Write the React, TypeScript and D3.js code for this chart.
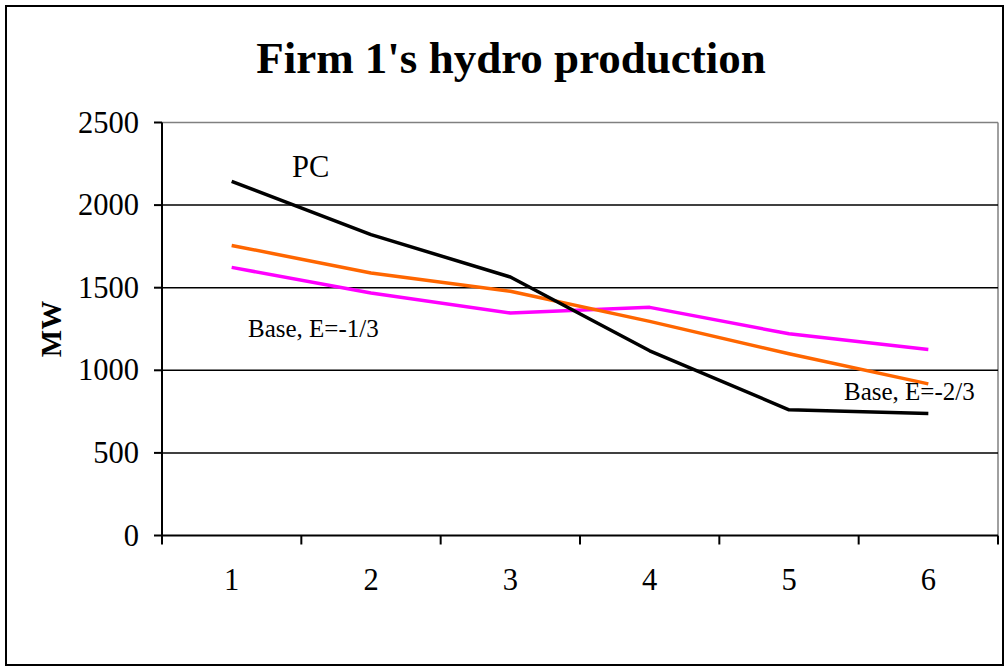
import React from "react";
import * as d3 from "d3";

const categories = ["1", "2", "3", "4", "5", "6"];
const pcValues = [2144, 1821, 1565, 1118, 761, 738];
const baseTwoThirds = [1756, 1589, 1478, 1296, 1100, 918];
const baseOneThird = [1623, 1468, 1347, 1381, 1221, 1126];
const yTicks = [0, 500, 1000, 1500, 2000, 2500];

const W = 1008;
const H = 666;
const left = 162;
const right = 998;
const top = 122.5;
const bottom = 535.5;
const FONT = "'Liberation Serif', 'Times New Roman', serif";

export default function App() {
  const x = d3.scaleBand<string>().domain(categories).range([left, right]).paddingInner(0).paddingOuter(0);
  const y = d3.scaleLinear().domain([0, 2500]).range([bottom, top]);
  const cx = (c: string) => (x(c) as number) + x.bandwidth() / 2;
  const line = d3
    .line<number>()
    .x((_, i) => cx(categories[i]))
    .y((d) => y(d));
  const boundaries = [...categories.map((c) => x(c) as number), right];

  const series = [
    { values: baseOneThird, color: "#FF00FF" },
    { values: baseTwoThirds, color: "#FF6600" },
    { values: pcValues, color: "#000000" },
  ];

  return (
    <div style={{ position: "fixed", left: 0, top: 0 }}>
      <svg width={W} height={H} style={{ display: "block", background: "#fff" }}>
        <rect x={6} y={6} width={997} height={659} fill="#fff" stroke="#000" strokeWidth={2} />
        <text x={511} y={73} textAnchor="middle" fontFamily={FONT} fontWeight="bold" fontSize={45}>
          Firm 1's hydro production
        </text>
        {/* plot border top/right gray */}
        <line x1={left} x2={right} y1={top} y2={top} stroke="#808080" strokeWidth={1.5} />
        <line x1={right} x2={right} y1={top} y2={bottom} stroke="#808080" strokeWidth={1.5} />
        {/* gridlines */}
        {yTicks
          .filter((t) => t > 0 && t < 2500)
          .map((t) => (
            <line key={t} x1={left} x2={right} y1={y(t)} y2={y(t)} stroke="#000" strokeWidth={1.5} />
          ))}
        {/* y axis */}
        <line x1={left} x2={left} y1={top} y2={bottom} stroke="#000" strokeWidth={2} />
        {yTicks.map((t) => (
          <g key={t}>
            <line x1={left - 8} x2={left} y1={y(t)} y2={y(t)} stroke="#000" strokeWidth={2} />
            <text x={139} y={y(t) + 10} textAnchor="end" fontFamily={FONT} fontSize={30.5}>
              {t}
            </text>
          </g>
        ))}
        {/* x axis */}
        <line x1={left} x2={right} y1={bottom} y2={bottom} stroke="#000" strokeWidth={2} />
        {boundaries.map((b, i) => (
          <line key={i} x1={b} x2={b} y1={bottom} y2={bottom + 9} stroke="#000" strokeWidth={2} />
        ))}
        {categories.map((c) => (
          <text key={c} x={cx(c)} y={590} textAnchor="middle" fontFamily={FONT} fontSize={30.5}>
            {c}
          </text>
        ))}
        <text
          transform={`translate(61,329) rotate(-90)`}
          textAnchor="middle"
          fontFamily={FONT}
          fontWeight="bold"
          fontSize={29}
        >
          MW
        </text>
        {series.map((s, i) => (
          <path key={i} d={line(s.values) || ""} fill="none" stroke={s.color} strokeWidth={3.5} strokeLinejoin="round" />
        ))}
        <text x={292} y={177} fontFamily={FONT} fontSize={30.5}>
          PC
        </text>
        <text x={248} y={337} fontFamily={FONT} fontSize={25}>
          Base, E=-1/3
        </text>
        <text x={844} y={400} fontFamily={FONT} fontSize={25}>
          Base, E=-2/3
        </text>
      </svg>
    </div>
  );
}
